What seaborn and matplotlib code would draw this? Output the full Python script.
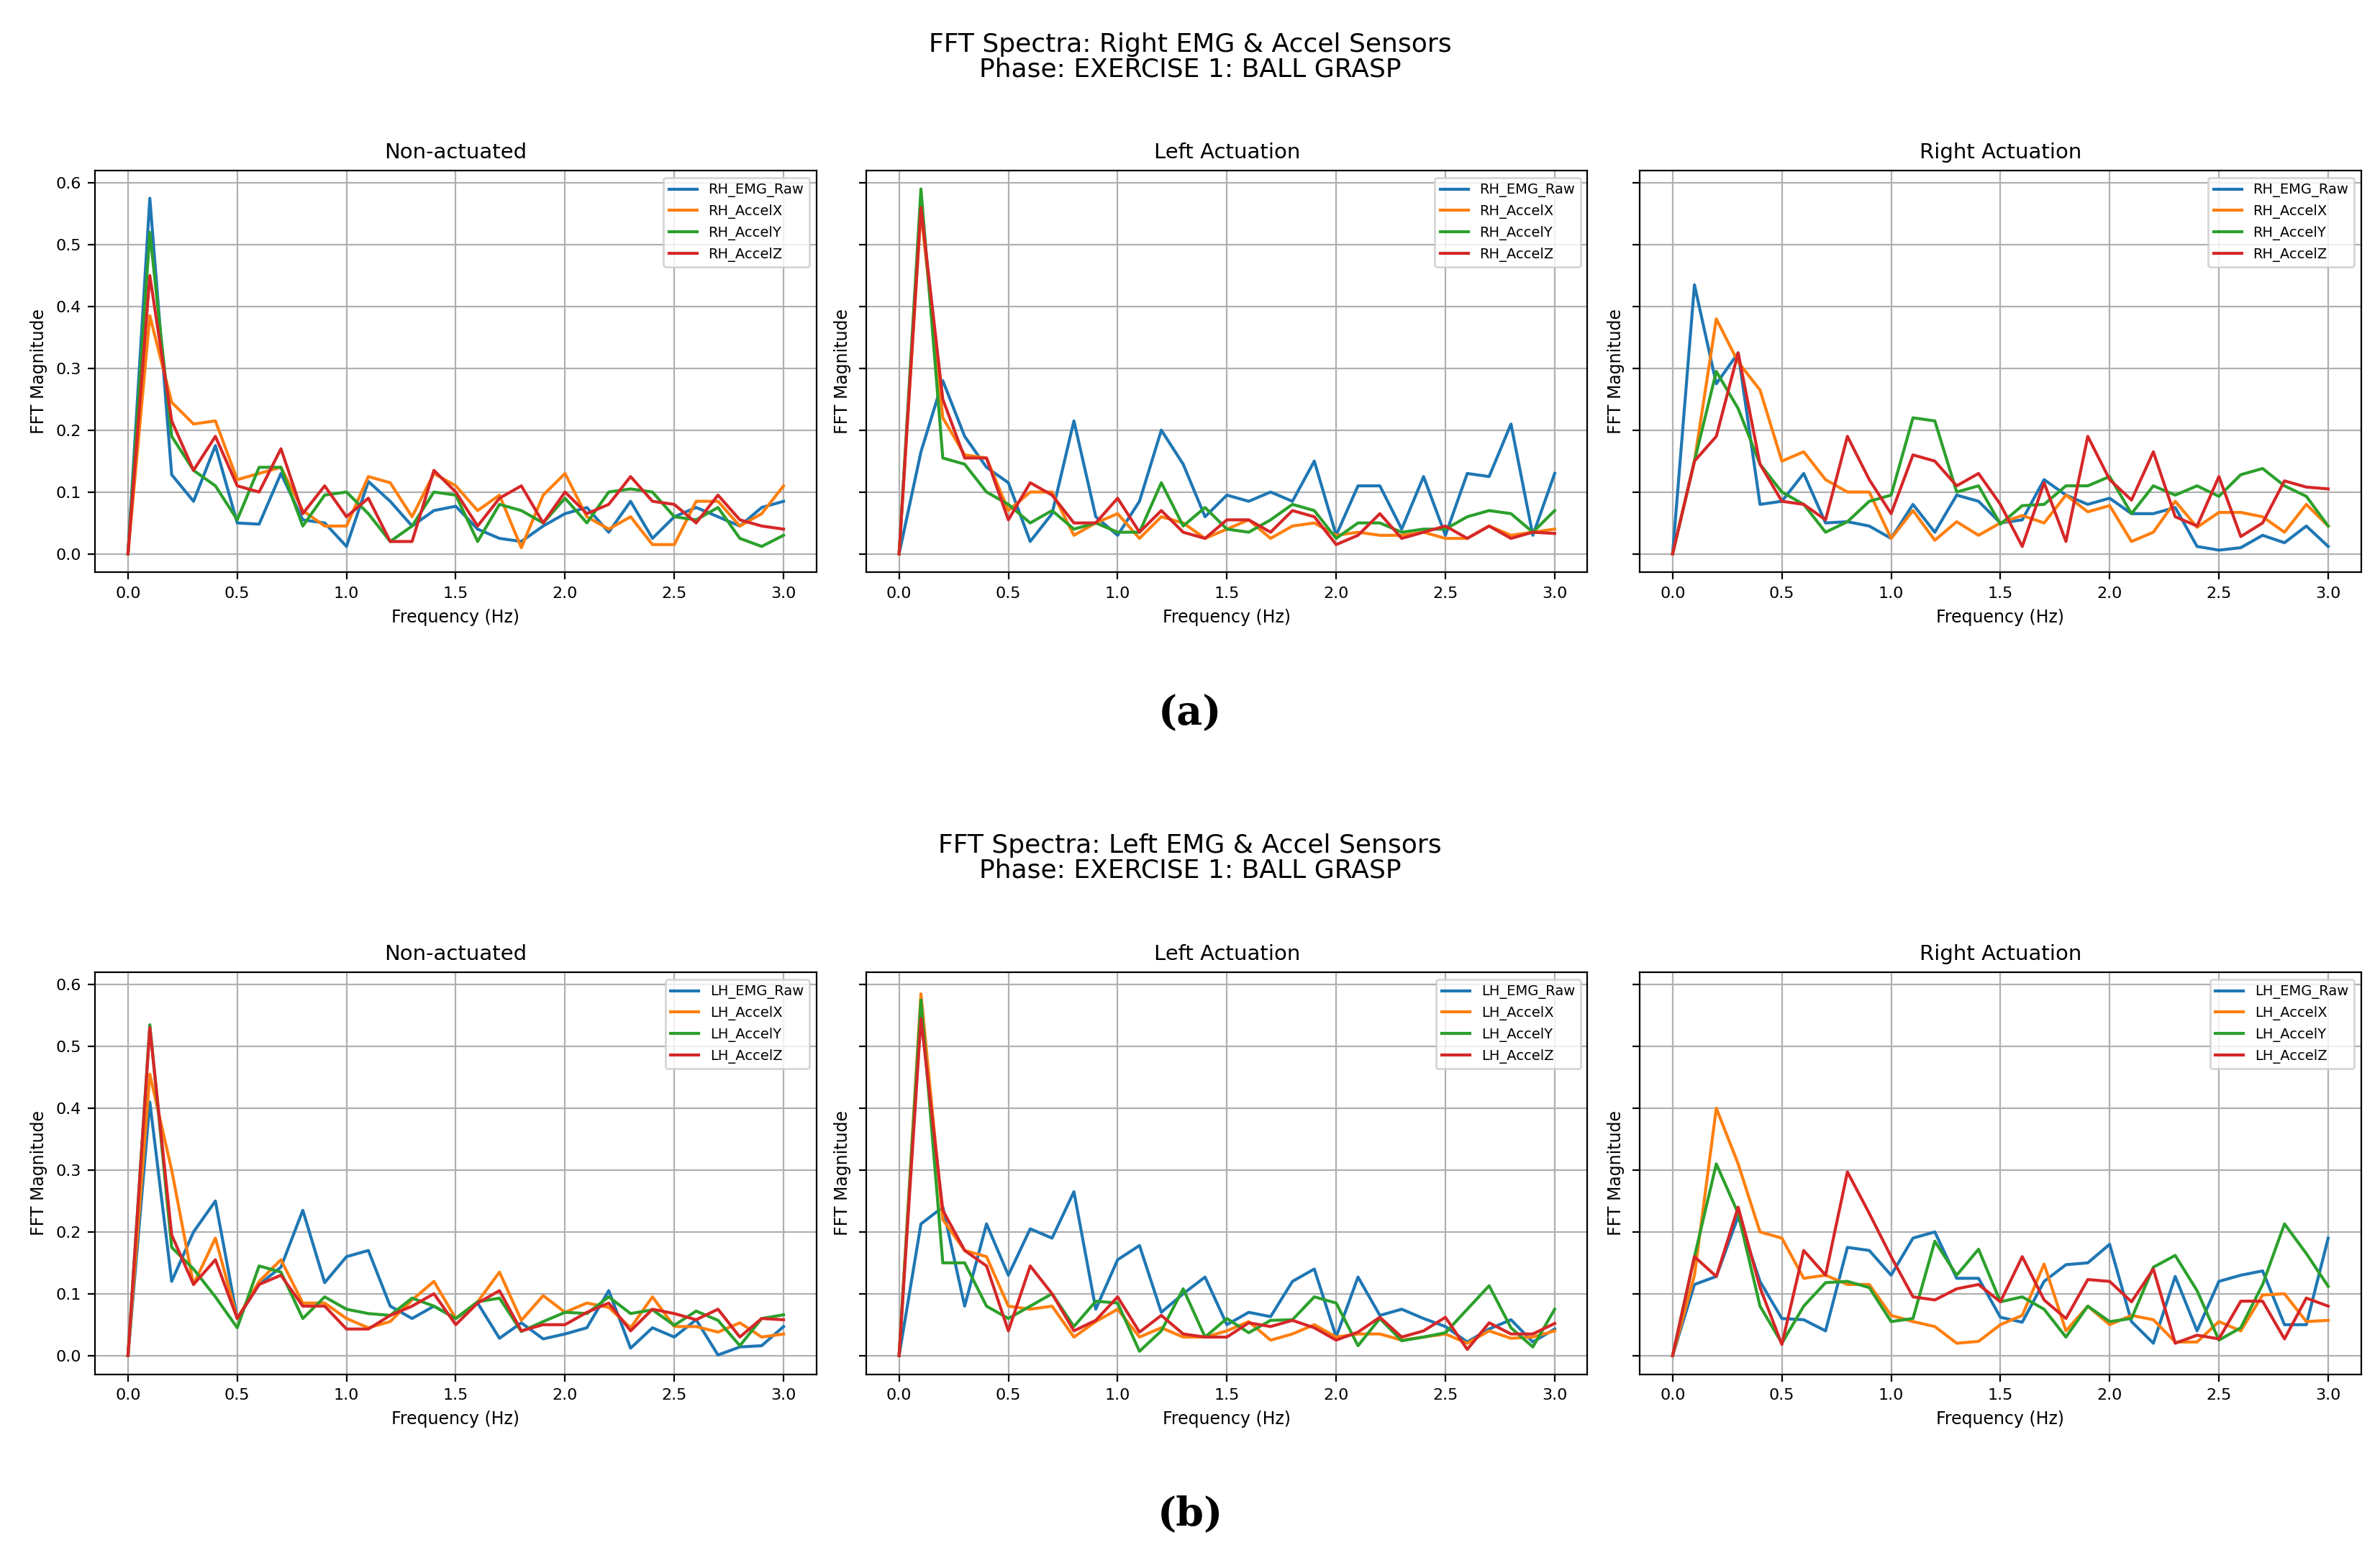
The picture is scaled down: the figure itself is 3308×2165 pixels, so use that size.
import numpy as np
import pandas as pd
import matplotlib
matplotlib.use("Agg")
import matplotlib.pyplot as plt
import seaborn as sns

freqs = [round(0.1 * i, 1) for i in range(31)]
conditions = ["Non-actuated", "Left Actuation", "Right Actuation"]
palette = ["#1f77b4", "#ff7f0e", "#2ca02c", "#d62728"]

rh_series = ["RH_EMG_Raw", "RH_AccelX", "RH_AccelY", "RH_AccelZ"]
lh_series = ["LH_EMG_Raw", "LH_AccelX", "LH_AccelY", "LH_AccelZ"]

# Right hand, Non-actuated
rh_non_emg = [0, 0.575, 0.128, 0.085, 0.175, 0.05, 0.048, 0.13, 0.055, 0.05, 0.012, 0.117, 0.085, 0.045, 0.07, 0.077, 0.04, 0.025, 0.02, 0.045, 0.065, 0.075, 0.035, 0.085, 0.025, 0.06, 0.075, 0.06, 0.045, 0.075, 0.085]
rh_non_x = [0, 0.385, 0.245, 0.21, 0.215, 0.12, 0.13, 0.14, 0.07, 0.045, 0.045, 0.125, 0.115, 0.06, 0.13, 0.11, 0.07, 0.095, 0.01, 0.095, 0.13, 0.06, 0.04, 0.06, 0.015, 0.015, 0.085, 0.085, 0.045, 0.065, 0.11]
rh_non_y = [0, 0.52, 0.19, 0.135, 0.11, 0.055, 0.14, 0.14, 0.045, 0.095, 0.1, 0.065, 0.02, 0.045, 0.1, 0.095, 0.02, 0.08, 0.07, 0.05, 0.09, 0.05, 0.1, 0.105, 0.1, 0.06, 0.055, 0.075, 0.025, 0.012, 0.03]
rh_non_z = [0, 0.45, 0.215, 0.135, 0.19, 0.11, 0.1, 0.17, 0.065, 0.11, 0.06, 0.09, 0.02, 0.02, 0.135, 0.1, 0.045, 0.09, 0.11, 0.05, 0.1, 0.065, 0.08, 0.125, 0.085, 0.08, 0.05, 0.095, 0.055, 0.045, 0.04]

# Right hand, Left actuation
rh_left_emg = [0, 0.165, 0.28, 0.19, 0.14, 0.115, 0.02, 0.065, 0.215, 0.06, 0.03, 0.085, 0.2, 0.145, 0.06, 0.095, 0.085, 0.1, 0.085, 0.15, 0.03, 0.11, 0.11, 0.04, 0.125, 0.03, 0.13, 0.125, 0.21, 0.03, 0.13]
rh_left_x = [0, 0.555, 0.22, 0.16, 0.155, 0.07, 0.1, 0.1, 0.03, 0.05, 0.065, 0.025, 0.06, 0.05, 0.025, 0.04, 0.055, 0.025, 0.045, 0.05, 0.03, 0.035, 0.03, 0.03, 0.035, 0.025, 0.025, 0.045, 0.03, 0.035, 0.04]
rh_left_y = [0, 0.59, 0.155, 0.145, 0.1, 0.08, 0.05, 0.07, 0.04, 0.05, 0.035, 0.035, 0.115, 0.045, 0.075, 0.04, 0.035, 0.055, 0.08, 0.07, 0.025, 0.05, 0.05, 0.035, 0.04, 0.04, 0.06, 0.07, 0.065, 0.035, 0.07]
rh_left_z = [0, 0.56, 0.25, 0.155, 0.155, 0.055, 0.115, 0.095, 0.05, 0.05, 0.09, 0.035, 0.07, 0.035, 0.025, 0.055, 0.055, 0.035, 0.07, 0.06, 0.015, 0.03, 0.065, 0.025, 0.035, 0.045, 0.025, 0.045, 0.025, 0.035, 0.033]

# Right hand, Right actuation
rh_right_emg = [0, 0.435, 0.275, 0.325, 0.08, 0.085, 0.13, 0.05, 0.052, 0.045, 0.025, 0.08, 0.035, 0.095, 0.085, 0.05, 0.055, 0.12, 0.095, 0.08, 0.09, 0.065, 0.065, 0.075, 0.012, 0.006, 0.01, 0.03, 0.018, 0.045, 0.012]
rh_right_x = [0, 0.15, 0.38, 0.31, 0.265, 0.15, 0.165, 0.12, 0.1, 0.1, 0.025, 0.07, 0.022, 0.052, 0.03, 0.05, 0.062, 0.05, 0.095, 0.068, 0.078, 0.02, 0.035, 0.085, 0.043, 0.067, 0.067, 0.06, 0.035, 0.08, 0.045]
rh_right_y = [0, 0.15, 0.295, 0.235, 0.145, 0.1, 0.08, 0.035, 0.052, 0.085, 0.095, 0.22, 0.215, 0.1, 0.11, 0.048, 0.078, 0.08, 0.11, 0.11, 0.125, 0.065, 0.11, 0.095, 0.11, 0.093, 0.128, 0.138, 0.11, 0.093, 0.045]
rh_right_z = [0, 0.15, 0.19, 0.325, 0.145, 0.085, 0.08, 0.055, 0.19, 0.12, 0.065, 0.16, 0.15, 0.11, 0.13, 0.08, 0.012, 0.115, 0.02, 0.19, 0.12, 0.087, 0.165, 0.06, 0.045, 0.125, 0.028, 0.05, 0.118, 0.108, 0.105]

# Left hand, Non-actuated
lh_non_emg = [0, 0.41, 0.12, 0.2, 0.25, 0.06, 0.115, 0.143, 0.235, 0.118, 0.16, 0.17, 0.08, 0.06, 0.08, 0.06, 0.085, 0.028, 0.053, 0.027, 0.035, 0.045, 0.105, 0.012, 0.045, 0.03, 0.058, 0.001, 0.014, 0.016, 0.047]
lh_non_x = [0, 0.455, 0.3, 0.115, 0.19, 0.06, 0.12, 0.155, 0.085, 0.085, 0.06, 0.045, 0.055, 0.09, 0.12, 0.06, 0.087, 0.135, 0.057, 0.097, 0.07, 0.085, 0.078, 0.045, 0.095, 0.047, 0.047, 0.038, 0.053, 0.03, 0.035]
lh_non_y = [0, 0.535, 0.175, 0.14, 0.095, 0.045, 0.145, 0.135, 0.06, 0.095, 0.075, 0.068, 0.065, 0.093, 0.08, 0.06, 0.087, 0.093, 0.039, 0.055, 0.07, 0.068, 0.095, 0.068, 0.074, 0.049, 0.072, 0.057, 0.016, 0.06, 0.066]
lh_non_z = [0, 0.53, 0.195, 0.115, 0.155, 0.06, 0.115, 0.13, 0.08, 0.08, 0.043, 0.043, 0.065, 0.08, 0.1, 0.05, 0.085, 0.105, 0.04, 0.05, 0.05, 0.07, 0.085, 0.04, 0.075, 0.068, 0.058, 0.075, 0.03, 0.06, 0.058]

# Left hand, Left actuation
lh_left_emg = [0, 0.213, 0.24, 0.08, 0.213, 0.13, 0.205, 0.19, 0.265, 0.075, 0.155, 0.178, 0.07, 0.1, 0.127, 0.05, 0.07, 0.063, 0.12, 0.14, 0.03, 0.127, 0.065, 0.075, 0.06, 0.047, 0.022, 0.043, 0.058, 0.022, 0.043]
lh_left_x = [0, 0.585, 0.22, 0.17, 0.16, 0.08, 0.075, 0.08, 0.03, 0.055, 0.075, 0.03, 0.045, 0.03, 0.03, 0.04, 0.055, 0.025, 0.035, 0.05, 0.03, 0.035, 0.035, 0.025, 0.03, 0.035, 0.02, 0.04, 0.028, 0.03, 0.04]
lh_left_y = [0, 0.575, 0.15, 0.15, 0.08, 0.06, 0.08, 0.1, 0.047, 0.088, 0.085, 0.007, 0.04, 0.108, 0.03, 0.06, 0.037, 0.057, 0.058, 0.095, 0.085, 0.016, 0.06, 0.024, 0.03, 0.037, 0.075, 0.113, 0.045, 0.014, 0.075]
lh_left_z = [0, 0.545, 0.235, 0.17, 0.145, 0.04, 0.145, 0.1, 0.04, 0.057, 0.095, 0.038, 0.065, 0.035, 0.03, 0.03, 0.053, 0.047, 0.057, 0.045, 0.025, 0.038, 0.062, 0.03, 0.04, 0.062, 0.01, 0.053, 0.035, 0.035, 0.052]

# Left hand, Right actuation
lh_right_emg = [0, 0.115, 0.128, 0.225, 0.12, 0.06, 0.058, 0.04, 0.175, 0.17, 0.13, 0.19, 0.2, 0.125, 0.125, 0.062, 0.054, 0.12, 0.147, 0.15, 0.18, 0.055, 0.02, 0.128, 0.04, 0.12, 0.13, 0.137, 0.05, 0.05, 0.19]
lh_right_x = [0, 0.13, 0.4, 0.31, 0.2, 0.19, 0.125, 0.13, 0.115, 0.115, 0.065, 0.055, 0.047, 0.02, 0.023, 0.05, 0.065, 0.148, 0.04, 0.08, 0.05, 0.065, 0.058, 0.022, 0.022, 0.055, 0.04, 0.098, 0.1, 0.055, 0.057]
lh_right_y = [0, 0.16, 0.31, 0.23, 0.08, 0.02, 0.08, 0.118, 0.12, 0.11, 0.055, 0.06, 0.185, 0.13, 0.172, 0.087, 0.095, 0.075, 0.03, 0.08, 0.055, 0.06, 0.143, 0.162, 0.105, 0.025, 0.045, 0.115, 0.213, 0.165, 0.112]
lh_right_z = [0, 0.16, 0.128, 0.24, 0.11, 0.018, 0.17, 0.13, 0.297, 0.23, 0.16, 0.095, 0.09, 0.108, 0.115, 0.087, 0.16, 0.09, 0.06, 0.123, 0.12, 0.087, 0.14, 0.02, 0.033, 0.027, 0.088, 0.088, 0.027, 0.093, 0.08]

rh_data = [[rh_non_emg, rh_non_x, rh_non_y, rh_non_z],
           [rh_left_emg, rh_left_x, rh_left_y, rh_left_z],
           [rh_right_emg, rh_right_x, rh_right_y, rh_right_z]]
lh_data = [[lh_non_emg, lh_non_x, lh_non_y, lh_non_z],
           [lh_left_emg, lh_left_x, lh_left_y, lh_left_z],
           [lh_right_emg, lh_right_x, lh_right_y, lh_right_z]]

fig = plt.figure(figsize=(16.54, 10.825), dpi=200)

lefts = [0.040, 0.364, 0.689]
w, h = 0.303, 0.258
blocks = [
    (0.6326, rh_data, rh_series, "FFT Spectra: Right EMG & Accel Sensors", 0.979, "(a)", 0.542),
    (0.118, lh_data, lh_series, "FFT Spectra: Left EMG & Accel Sensors", 0.465, "(b)", 0.028),
]

for bottom, data, names, sup, supy, lab, laby in blocks:
    axes = []
    for j, cond in enumerate(conditions):
        ax = fig.add_axes([lefts[j], bottom, w, h], sharey=axes[0] if axes else None)
        axes.append(ax)
        rows = []
        for s, vals in zip(names, data[j]):
            for f, v in zip(freqs, vals):
                rows.append({"Frequency": f, "Magnitude": v, "Sensor": s})
        df = pd.DataFrame(rows)
        sns.lineplot(data=df, x="Frequency", y="Magnitude", hue="Sensor",
                     hue_order=names, palette=palette, ax=ax, linewidth=1.5,
                     errorbar=None, sort=False)
        ax.set_title(cond, fontsize=10.5)
        ax.set_xlabel("Frequency (Hz)", fontsize=8.5)
        ax.set_ylabel("FFT Magnitude", fontsize=8.5)
        ax.set_xticks([0, 0.5, 1.0, 1.5, 2.0, 2.5, 3.0])
        ax.set_yticks([0, 0.1, 0.2, 0.3, 0.4, 0.5, 0.6])
        ax.set_xlim(-0.15, 3.15)
        ax.set_ylim(-0.03, 0.62)
        ax.tick_params(labelsize=8)
        ax.grid(True, color="#b0b0b0", linewidth=0.8)
        if j > 0:
            ax.tick_params(labelleft=False)
        leg = ax.legend(loc="upper right", fontsize=7, title=None)
    fig.text(0.5, supy, sup + "\nPhase: EXERCISE 1: BALL GRASP", ha="center", va="top",
             fontsize=13, linespacing=1.0)
    fig.text(0.5, laby, lab, ha="center", va="center", fontsize=20,
             fontweight="bold", family="DejaVu Serif")

fig.savefig("out.png", dpi=200)
